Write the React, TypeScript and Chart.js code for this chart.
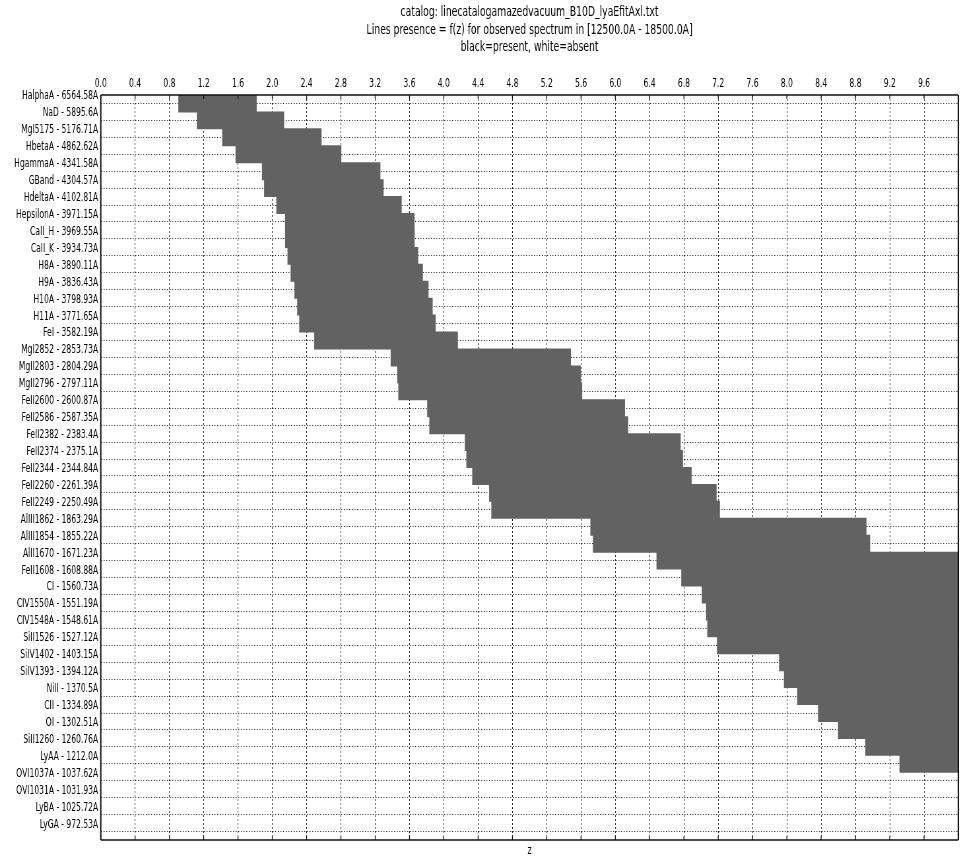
import { useEffect, useRef } from 'react';
import { Chart, registerables } from 'chart.js';

Chart.register(...registerables);

// Spectral lines (row labels, top to bottom)
const lineNames = [
  'HalphaA - 6564.58A',
  'NaD - 5895.6A',
  'MgI5175 - 5176.71A',
  'HbetaA - 4862.62A',
  'HgammaA - 4341.58A',
  'GBand - 4304.57A',
  'HdeltaA - 4102.81A',
  'HepsilonA - 3971.15A',
  'CaII_H - 3969.55A',
  'CaII_K - 3934.73A',
  'H8A - 3890.11A',
  'H9A - 3836.43A',
  'H10A - 3798.93A',
  'H11A - 3771.65A',
  'FeI - 3582.19A',
  'MgI2852 - 2853.73A',
  'MgII2803 - 2804.29A',
  'MgII2796 - 2797.11A',
  'FeII2600 - 2600.87A',
  'FeII2586 - 2587.35A',
  'FeII2382 - 2383.4A',
  'FeII2374 - 2375.1A',
  'FeII2344 - 2344.84A',
  'FeII2260 - 2261.39A',
  'FeII2249 - 2250.49A',
  'AlIII1862 - 1863.29A',
  'AlIII1854 - 1855.22A',
  'AlII1670 - 1671.23A',
  'FeII1608 - 1608.88A',
  'CI - 1560.73A',
  'CIV1550A - 1551.19A',
  'CIV1548A - 1548.61A',
  'SiII1526 - 1527.12A',
  'SiIV1402 - 1403.15A',
  'SiIV1393 - 1394.12A',
  'NiII - 1370.5A',
  'CII - 1334.89A',
  'OI - 1302.51A',
  'SiII1260 - 1260.76A',
  'LyAA - 1212.0A',
  'OVI1037A - 1037.62A',
  'OVI1031A - 1031.93A',
  'LyBA - 1025.72A',
  'LyGA - 972.53A',
];

// Redshift where each line enters the observed window
const zStart = [
  0.904, 1.120, 1.415, 1.571, 1.879, 1.904, 2.047, 2.148, 2.149, 2.177,
  2.213, 2.258, 2.290, 2.314, 2.489, 3.380, 3.457, 3.469, 3.806, 3.831,
  4.245, 4.263, 4.331, 4.528, 4.554, 5.709, 5.738, 6.480, 6.769, 7.009,
  7.058, 7.072, 7.185, 7.909, 7.966, 8.121, 8.364, 8.597, 8.915, 9.314,
  11.047, 11.113, 11.187, 11.853,
];

// Redshift where each line leaves the observed window
const zEnd = [
  1.818, 2.138, 2.574, 2.805, 3.261, 3.298, 3.509, 3.659, 3.660, 3.702,
  3.756, 3.822, 3.870, 3.905, 4.164, 5.483, 5.597, 5.614, 6.113, 6.150,
  6.762, 6.789, 6.890, 7.181, 7.220, 8.929, 8.972, 10.070, 10.499, 10.853,
  10.926, 10.946, 11.114, 12.185, 12.270, 12.499, 12.859, 13.203, 13.674, 14.264,
  16.829, 16.928, 17.036, 18.023,
];

const zTicks = [
  0.0, 0.4, 0.8, 1.2, 1.6, 2.0, 2.4, 2.8, 3.2, 3.6, 4.0, 4.4, 4.8,
  5.2, 5.6, 6.0, 6.4, 6.8, 7.2, 7.6, 8.0, 8.4, 8.8, 9.2, 9.6,
];

const titleLines = [
  'catalog: linecatalogamazedvacuum_B10D_lyaEfitAxl.txt',
  'Lines presence = f(z) for observed spectrum in [12500.0A - 18500.0A]',
  'black=present, white=absent',
];

const Z_MIN = 0;
const Z_MAX = 10;

// The figure is laid out on a wide canvas and squeezed horizontally.
const SX = 0.66;
const VIEW_W = 961;
const VIEW_H = 862;
const W = Math.round(VIEW_W / SX);
const H = VIEW_H;
const FONT = "'DejaVu Sans', sans-serif";

// Solid frame around the plot area plus short inward ticks on top/bottom
const framePlugin = {
  id: 'frame',
  afterDraw(chart: any) {
    const { ctx, chartArea: a } = chart;
    const xs = chart.scales.x;
    ctx.save();
    ctx.strokeStyle = '#111';
    ctx.lineWidth = 1.5;
    ctx.beginPath();
    ctx.moveTo(a.left, a.top);
    ctx.lineTo(a.right, a.top);
    ctx.moveTo(a.left, a.bottom);
    ctx.lineTo(a.right, a.bottom);
    ctx.stroke();
    ctx.lineWidth = 2;
    ctx.beginPath();
    ctx.moveTo(a.left, a.top);
    ctx.lineTo(a.left, a.bottom);
    ctx.moveTo(a.right, a.top);
    ctx.lineTo(a.right, a.bottom);
    ctx.stroke();
    ctx.lineWidth = 1.3;
    ctx.beginPath();
    xs.ticks.forEach((t: any) => {
      const px = xs.getPixelForValue(t.value);
      ctx.moveTo(px, a.top);
      ctx.lineTo(px, a.top + 4);
      ctx.moveTo(px, a.bottom);
      ctx.lineTo(px, a.bottom - 4);
    });
    ctx.stroke();
    ctx.restore();
  },
};

export default function App() {
  const canvasRef = useRef<HTMLCanvasElement | null>(null);

  useEffect(() => {
    const canvas = canvasRef.current;
    if (!canvas) return;
    const chart = new Chart(canvas, {
      type: 'bar',
      data: {
        labels: lineNames,
        datasets: [
          {
            data: lineNames.map((_, i) => [zStart[i], zEnd[i]]),
            backgroundColor: '#626262',
            borderWidth: 0,
            barPercentage: 1.06,
            categoryPercentage: 1,
            xAxisID: 'x',
            yAxisID: 'y',
          },
        ],
      },
      options: {
        indexAxis: 'y',
        animation: false,
        responsive: false,
        devicePixelRatio: 1,
        layout: { padding: { left: 0, right: 4, top: 0, bottom: 0 } },
        plugins: {
          legend: { display: false },
          tooltip: { enabled: false },
          title: {
            display: true,
            text: titleLines,
            fullSize: false,
            color: '#000',
            font: { family: FONT, size: 14, weight: 'normal', lineHeight: 1.25 },
            padding: { top: 4, bottom: 0 },
          },
        },
        scales: {
          x: {
            type: 'linear',
            position: 'top',
            min: Z_MIN,
            max: Z_MAX,
            z: 1,
            afterBuildTicks: (s: any) => {
              s.ticks = zTicks.map((v) => ({ value: v }));
            },
            afterFit: (s: any) => {
              s.height = 38.5;
            },
            ticks: {
              callback: (v: any) => Number(v).toFixed(1),
              color: '#000',
              font: { family: FONT, size: 11.5 },
              padding: 4,
              maxRotation: 0,
              autoSkip: false,
            },
            grid: {
              drawTicks: false,
              color: 'rgba(0,0,0,0.85)',
              lineWidth: 1,
            },
            border: { display: false, dash: [2, 2] },
          },
          x2: {
            type: 'linear',
            position: 'bottom',
            min: Z_MIN,
            max: Z_MAX,
            ticks: { display: false },
            grid: { display: false, drawTicks: false },
            border: { display: false },
            afterFit: (s: any) => {
              s.height = 22;
            },
            title: {
              display: true,
              text: 'z',
              color: '#000',
              font: { family: FONT, size: 12 },
              padding: { top: 4, bottom: 4 },
            },
          },
          y: {
            type: 'category',
            position: 'left',
            offset: true,
            z: 1,
            afterFit: (s: any) => {
              s.width = 152.7;
            },
            ticks: {
              color: '#000',
              font: { family: FONT, size: 11.5 },
              padding: 4,
              labelOffset: -7,
              autoSkip: false,
            },
            grid: {
              offset: false,
              drawTicks: false,
              color: 'rgba(0,0,0,0.8)',
              lineWidth: 1,
            },
            border: { display: false, dash: [1.5, 2.5] },
          },
        },
      },
      plugins: [framePlugin],
    } as any);
    return () => chart.destroy();
  }, []);

  return (
    <div
      style={{
        position: 'absolute',
        left: 0,
        top: 0,
        width: VIEW_W,
        height: VIEW_H,
        overflow: 'hidden',
        background: '#fff',
      }}
    >
      <div
        style={{
          width: W,
          height: H,
          transform: `scaleX(${SX})`,
          transformOrigin: '0 0',
        }}
      >
        <canvas ref={canvasRef} width={W} height={H} style={{ display: 'block' }} />
      </div>
    </div>
  );
}
